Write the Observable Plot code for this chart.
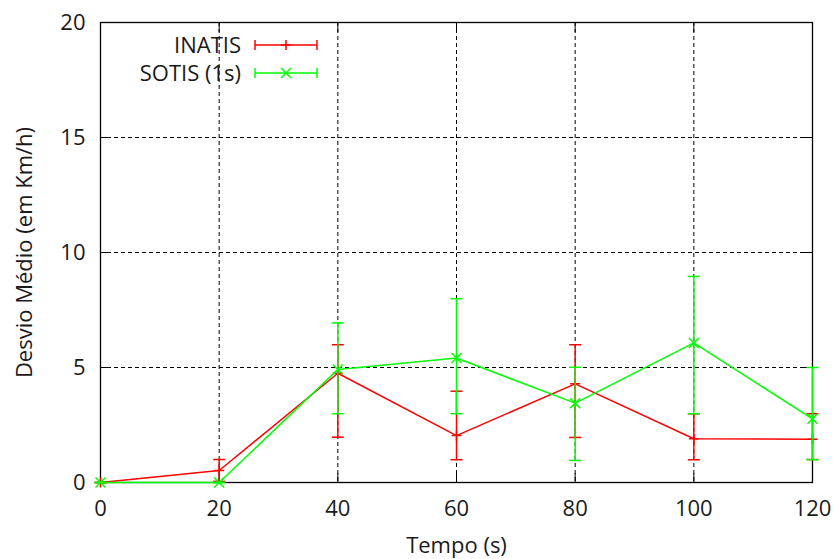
<!DOCTYPE html>
<html>
<head>
<meta charset="utf-8">
<script src="https://cdn.jsdelivr.net/npm/d3@7"></script>
<script src="https://cdn.jsdelivr.net/npm/@observablehq/plot@0.6"></script>
<style>
  html, body { margin: 0; padding: 0; background: #fff; }
  #chart { width: 834px; height: 559px; }
</style>
</head>
<body>
<div id="chart"></div>
<script>
// ---- data ----
const tempo = [0, 20, 40, 60, 80, 100, 120];

const inatisMean = [0, 0.52, 4.75, 2.04, 4.29, 1.90, 1.88];
const inatisLow  = [0, 0.05, 1.97, 0.99, 1.96, 0.99, 1.00];
const inatisHigh = [0, 1.00, 5.99, 3.97, 5.99, 2.99, 2.99];

const sotisMean = [0, 0, 4.91, 5.41, 3.45, 6.07, 2.77];
const sotisLow  = [0, 0, 2.99, 2.99, 0.96, 2.99, 0.99];
const sotisHigh = [0, 0, 6.94, 7.99, 5.01, 8.96, 5.00];

const seriesNames = ["INATIS", "SOTIS (1s)"];
const xTicks = [0, 20, 40, 60, 80, 100, 120];
const yTicks = [0, 5, 10, 15, 20];
const xGridTicks = [20, 40, 60, 80, 100];
const yGridTicks = [5, 10, 15];
const xLabel = "Tempo (s)";
const yLabel = "Desvio Médio (em Km/h)";

// ---- style ----
const RED = "#ff0000";
const GREEN = "#00ff00";
const FONT = "Open Sans";
const FS = 22;

const rows = (mean, lo, hi) => tempo.map((t, i) => ({ t, mean: mean[i], lo: lo[i], hi: hi[i] }));
const inatis = rows(inatisMean, inatisLow, inatisHigh);
const sotis = rows(sotisMean, sotisLow, sotisHigh);

const capSymbol = {
  draw(context, size) {
    const r = Math.sqrt(size / Math.PI);
    context.moveTo(-r, 0);
    context.lineTo(r, 0);
  }
};

function seriesMarks(data, color, symbol, symR) {
  return [
    Plot.ruleX(data, { x: "t", y1: "lo", y2: "hi", stroke: color, strokeWidth: 1.5 }),
    Plot.dot(data, { x: "t", y: "lo", symbol: capSymbol, r: 6, stroke: color, strokeWidth: 1.5 }),
    Plot.dot(data, { x: "t", y: "hi", symbol: capSymbol, r: 6, stroke: color, strokeWidth: 1.5 }),
    Plot.line(data, { x: "t", y: "mean", stroke: color, strokeWidth: 1.5 }),
    Plot.dot(data, { x: "t", y: "mean", symbol, r: symR, stroke: color, strokeWidth: 1.5 })
  ];
}

const chart = Plot.plot({
  width: 834,
  height: 559,
  marginLeft: 100,
  marginRight: 22,
  marginTop: 22,
  marginBottom: 77,
  style: { fontFamily: FONT, fontSize: FS + "px", color: "#000", background: "#fff", overflow: "visible" },
  x: { domain: [0, 120] },
  y: { domain: [0, 20] },
  marks: [
    Plot.gridX(xGridTicks, { stroke: "#000", strokeOpacity: 1, strokeWidth: 1, strokeDasharray: "4,3" }),
    Plot.gridY(yGridTicks, { stroke: "#000", strokeOpacity: 1, strokeWidth: 1, strokeDasharray: "4,3" }),
    Plot.axisX(xTicks, { anchor: "bottom", tickSize: -9, tickPadding: 27, label: null, fontSize: FS, fill: "#1a1a1a" }),
    Plot.axisX(xTicks, { anchor: "top", tickSize: -9, tickFormat: () => "", label: null }),
    Plot.axisY(yTicks, { anchor: "left", tickSize: -9, tickPadding: 24, label: null, fontSize: FS, fill: "#1a1a1a" }),
    Plot.axisY(yTicks, { anchor: "right", tickSize: -9, tickFormat: () => "", label: null }),
    Plot.frame({ stroke: "#000", strokeWidth: 1.3 }),
    Plot.text([xLabel], { frameAnchor: "bottom", dy: 63, lineAnchor: "middle", textAnchor: "middle", fontSize: FS, fill: "#1a1a1a" }),
    Plot.text([yLabel], { frameAnchor: "left", dx: -76, rotate: -90, lineAnchor: "middle", textAnchor: "middle", fontSize: FS, fill: "#1a1a1a" }),
    ...seriesMarks(inatis, RED, "plus", 3.3),
    ...seriesMarks(sotis, GREEN, "times", 4.6)
  ]
});

document.getElementById("chart").appendChild(chart);

// ---- legend (inside the plot, top-left) ----
const svg = d3.select(chart);
const legendItems = [
  { name: seriesNames[0], color: RED, symbol: d3.symbolPlus, size: 3.3 * 3.3 * Math.PI },
  { name: seriesNames[1], color: GREEN, symbol: d3.symbolTimes, size: 4.6 * 4.6 * Math.PI }
];
const lg = svg.append("g").attr("font-family", FONT).attr("font-size", FS);
legendItems.forEach((d, i) => {
  const cy = 45 + i * 28;
  const g = lg.append("g").attr("transform", `translate(0,${cy})`);
  g.append("text").attr("x", 241).attr("y", 0).attr("dy", "0.35em").attr("text-anchor", "end").attr("fill", "#1a1a1a").text(d.name);
  g.append("line").attr("x1", 255).attr("x2", 317).attr("y1", 0).attr("y2", 0).attr("stroke", d.color).attr("stroke-width", 1.5);
  g.append("line").attr("x1", 255).attr("x2", 255).attr("y1", -5).attr("y2", 5).attr("stroke", d.color).attr("stroke-width", 1.5);
  g.append("line").attr("x1", 317).attr("x2", 317).attr("y1", -5).attr("y2", 5).attr("stroke", d.color).attr("stroke-width", 1.5);
  g.append("path").attr("transform", "translate(286,0)").attr("d", d3.symbol(d.symbol, d.size)()).attr("fill", "none").attr("stroke", d.color).attr("stroke-width", 1.5);
});
</script>
</body>
</html>
